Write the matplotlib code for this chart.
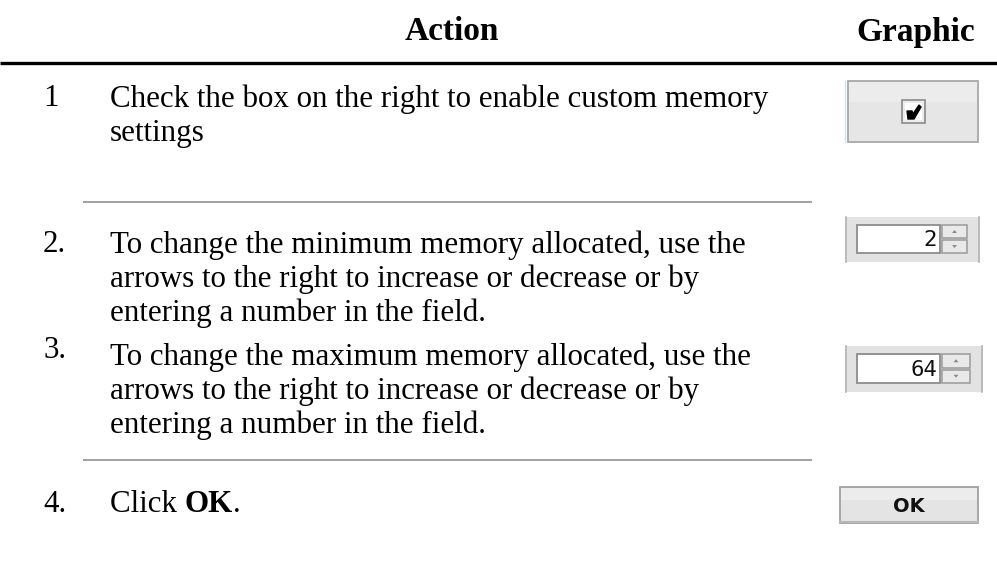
import matplotlib
matplotlib.use("Agg")
import matplotlib.pyplot as plt
from matplotlib.patches import Rectangle, Polygon

# ---- content ----
headers = ["Action", "Graphic"]
step_numbers = ["1", "2.", "3.", "4."]
step_lines = [
    ["Check the box on the right to enable custom memory", "settings"],
    ["To change the minimum memory allocated, use the",
     "arrows to the right to increase or decrease or by",
     "entering a number in the field."],
    ["To change the maximum memory allocated, use the",
     "arrows to the right to increase or decrease or by",
     "entering a number in the field."],
    None,  # "Click OK." rendered with bold OK
]
spinner_values = ["2", "64"]
ok_label = "OK"

W, H = 997, 563
fig = plt.figure(figsize=(W / 100, H / 100), dpi=100)
ax = fig.add_axes([0, 0, 1, 1])
ax.set_xlim(0, W)
ax.set_ylim(H, 0)
ax.axis("off")

serif = "Liberation Serif"
fs = 22.3
hfs = 24
line_h = 34

# header
ax.text(452, 32, headers[0], ha="center", va="center", fontsize=hfs, fontweight="bold", family=serif)
ax.text(975, 32, headers[1], ha="right", va="center", fontsize=hfs, fontweight="bold", family=serif)
ax.plot([0, W], [63, 63], color="black", lw=2.4, solid_capstyle="butt")

num_x = 43
txt_x = 110
row_tops = [99, 245, 357]
num_y = [99, 245, 350]
for i in range(3):
    ax.text(num_x, num_y[i], step_numbers[i], ha="left", va="center", fontsize=fs, family=serif)
    for j, ln in enumerate(step_lines[i]):
        ax.text(txt_x, row_tops[i] + j * line_h, ln, ha="left", va="center", fontsize=fs, family=serif)

# row 4
ax.text(num_x, 505, step_numbers[3], ha="left", va="center", fontsize=fs, family=serif)
t = ax.text(txt_x, 505, "Click ", ha="left", va="center", fontsize=fs, family=serif)
ax.annotate("OK", xycoords=t, xy=(1, 0.5), va="center", ha="left",
            fontsize=fs, fontweight="bold", family=serif)
fig.canvas.draw()
bb = ax.texts[-1].get_window_extent()
inv = ax.transData.inverted()
x_end = inv.transform((bb.x1, bb.y0))[0]
ax.text(x_end, 505, ".", ha="left", va="center", fontsize=fs, family=serif)

# separators
for y in [202, 460]:
    ax.plot([83, 812], [y, y], color="#9a9a9a", lw=1.3, solid_capstyle="butt")

# ---- graphics ----
# checkbox button
ax.add_patch(Rectangle((848, 81), 130, 61, facecolor="#e6e6e6", edgecolor="#a8a8a8", lw=1.3))
ax.add_patch(Rectangle((849, 82), 128, 20, facecolor="#ececec", edgecolor="none"))
ax.plot([845, 845], [81, 142], color="#c8e6ec", lw=1.0)
ax.add_patch(Rectangle((902, 100), 23, 23, facecolor="#ececec", edgecolor="#8a8a8a", lw=1.2))
ax.add_patch(Rectangle((905, 103), 17, 17, facecolor="white", edgecolor="none"))
ax.add_patch(Polygon([[907, 111], [912, 111], [913, 114], [919, 105], [921, 107], [914, 119], [908, 119]],
                     closed=True, facecolor="black", edgecolor="black", lw=1.0))

# spinners
spin_boxes = [(845, 217, 980, 262), (845, 346, 983, 392)]
for (x0, y0, x1, y1), val in zip(spin_boxes, spinner_values):
    ax.add_patch(Rectangle((x0, y0), x1 - x0, y1 - y0, facecolor="#e2e2e2", edgecolor="none"))
    ax.plot([x0 + 1, x0 + 1], [y0, y1], color="#b4b4b4", lw=1.2)
    ax.plot([x1 - 1, x1 - 1], [y0, y1], color="#b4b4b4", lw=1.2)
    fx0, fy0, fx1, fy1 = x0 + 12, y0 + 8, x0 + 95, y1 - 9
    ax.add_patch(Rectangle((fx0, fy0), fx1 - fx0, fy1 - fy0, facecolor="white", edgecolor="#8c8c8c", lw=1.3))
    ax.text(fx1 - 3, (fy0 + fy1) / 2 + 1, val, ha="right", va="center", fontsize=16,
            family="DejaVu Sans Mono", color="#111111")
    bx0, bx1 = fx1 + 2, x1 - 13
    ym = (fy0 + fy1) / 2
    for (ya, yb, up) in [(fy0, ym - 1, True), (ym + 1, fy1, False)]:
        ax.add_patch(Rectangle((bx0, ya), bx1 - bx0, yb - ya, facecolor="#e9e9e9", edgecolor="#9a9a9a", lw=1.1))
        cx, cy = (bx0 + bx1) / 2, (ya + yb) / 2
        if up:
            tri = [[cx - 2.5, cy + 1.5], [cx + 2.5, cy + 1.5], [cx, cy - 1.5]]
        else:
            tri = [[cx - 2.5, cy - 1.5], [cx + 2.5, cy - 1.5], [cx, cy + 1.5]]
        ax.add_patch(Polygon(tri, closed=True, facecolor="#8a8a8a", edgecolor="none"))

# OK button
ax.add_patch(Rectangle((840, 487), 138, 36, facecolor="#e4e4e4", edgecolor="#a0a0a0", lw=1.3))
ax.add_patch(Rectangle((841, 488), 136, 12, facecolor="#ececec", edgecolor="none"))
ax.plot([840, 978], [522, 522], color="#b8b8b8", lw=1.5)
ax.text(909, 506, ok_label, ha="center", va="center", fontsize=14, fontweight="bold",
        family="DejaVu Sans", color="#111111")

fig.savefig("out.png", dpi=100)
